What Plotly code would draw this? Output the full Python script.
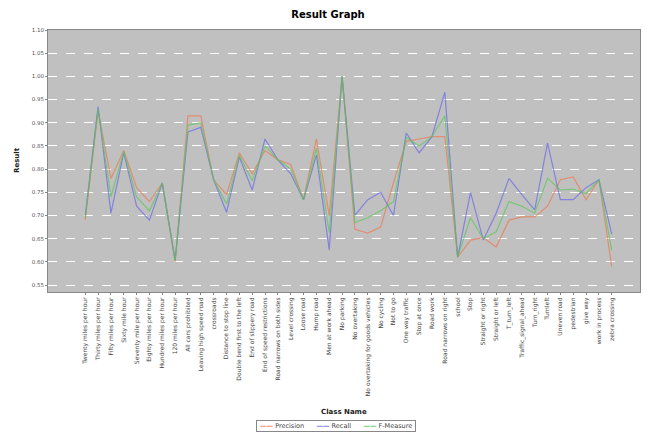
import plotly.graph_objects as go

categories = [
    "Twenty miles per hour", "Thirty miles per hour", "Fifty miles per hour",
    "Sixty mile hour", "Seventy mile per hour", "Eighty miles per hour",
    "Hundred miles per hour", "120 miles per hour", "All cars prohibited",
    "Leaving high speed road", "crossroads", "Distance to stop line",
    "Double bend first to the left", "End of slippery road",
    "End of speed restrictions", "Road narrows on both sides",
    "Level crossing", "Loose road", "Hump road", "Men at work ahead",
    "No parking", "No overtaking", "No overtaking for goods vehicles",
    "No cycling", "Not to go", "One way traffic", "Stop at once",
    "Road work", "Road narrows on right", "school", "Stop",
    "Straight or right", "Straight or left", "T_turn_left",
    "Traffic_signal_ahead", "Turn_right", "Turnleft", "Uneven road",
    "pedestrian", "give way", "work in process", "zebra crossing",
]

precision = [0.69, 0.925, 0.78, 0.84, 0.76, 0.73, 0.77, 0.60, 0.915, 0.915,
             0.777, 0.745, 0.835, 0.79, 0.84, 0.82, 0.81, 0.734, 0.865, 0.70,
             1.00, 0.67, 0.662, 0.675, 0.77, 0.86, 0.865, 0.87, 0.87, 0.61,
             0.647, 0.652, 0.632, 0.69, 0.697, 0.697, 0.72, 0.777, 0.783, 0.734,
             0.777, 0.59]
recall = [0.70, 0.935, 0.705, 0.835, 0.72, 0.69, 0.77, 0.604, 0.88, 0.89,
          0.777, 0.707, 0.826, 0.755, 0.865, 0.82, 0.79, 0.734, 0.83, 0.626,
          1.00, 0.70, 0.734, 0.75, 0.70, 0.878, 0.835, 0.87, 0.966, 0.61,
          0.75, 0.647, 0.705, 0.78, 0.745, 0.712, 0.856, 0.734, 0.734, 0.76,
          0.777, 0.66]
fmeasure = [0.695, 0.93, 0.74, 0.838, 0.74, 0.71, 0.77, 0.602, 0.895, 0.90,
            0.777, 0.725, 0.83, 0.775, 0.85, 0.82, 0.80, 0.734, 0.845, 0.663,
            1.00, 0.685, 0.695, 0.71, 0.73, 0.868, 0.85, 0.87, 0.915, 0.61,
            0.695, 0.65, 0.665, 0.73, 0.72, 0.705, 0.78, 0.755, 0.757, 0.747,
            0.777, 0.625]

series_names = ["Precision", "Recall", "F-Measure"]
series_colors = ["rgb(240,120,80)", "rgb(105,105,235)", "rgb(90,200,90)"]
y_ticks = [0.55, 0.60, 0.65, 0.70, 0.75, 0.80, 0.85, 0.90, 0.95, 1.00, 1.05, 1.10]

FONT = "DejaVu Sans"

fig = go.Figure()
for name, vals, col in zip(series_names, [precision, recall, fmeasure], series_colors):
    fig.add_trace(go.Scatter(
        x=categories, y=vals, mode="lines", name=name,
        line=dict(color=col, width=1.2), opacity=0.7,
    ))

fig.update_layout(
    width=656, height=434,
    margin=dict(l=48, r=16, t=30, b=142, autoexpand=False),
    paper_bgcolor="white",
    plot_bgcolor="rgb(192,192,192)",
    font=dict(family=FONT, size=6, color="#444"),
    title=dict(text="<b>Result Graph</b>", x=0.5, xanchor="center",
               y=1 - 14 / 434, yanchor="middle",
               font=dict(family=FONT, size=10, color="black")),
    showlegend=False,
)

fig.update_xaxes(
    type="category", range=[-2.9, 43.2],
    tickangle=-90, tickfont=dict(size=6, color="#444"),
    showgrid=False, ticks="outside", ticklen=2, tickcolor="#888",
    showline=True, linecolor="#888", linewidth=1, mirror=True,
    automargin=False,
)
fig.update_yaxes(
    range=[0.535, 1.10], tickvals=y_ticks, tickformat=".2f",
    tickfont=dict(size=5.5, color="#555"),
    showgrid=True, gridcolor="white", gridwidth=0.6, griddash="dash",
    ticks="outside", ticklen=2, tickcolor="#888",
    showline=True, linecolor="#888", linewidth=1, mirror=True,
    zeroline=False, automargin=False,
)

fig.add_annotation(text="<b>Class Name</b>", xref="paper", yref="paper",
                   x=0.5, y=(292 - 412) / 262, xanchor="center", yanchor="middle",
                   showarrow=False, font=dict(family=FONT, size=7, color="#222"))
fig.add_annotation(text="<b>Result</b>", xref="paper", yref="paper",
                   x=(17 - 48) / 592, y=(292 - 160) / 262, xanchor="center", yanchor="middle",
                   textangle=-90, showarrow=False,
                   font=dict(family=FONT, size=7, color="#222"))

# legend drawn as a single bordered text box, built from the series names/colours
legend_text = "      ".join(
    f"<span style='color:{c}'><b>——</b></span> {n}" for n, c in zip(series_names, series_colors)
)
fig.add_annotation(text=" " + legend_text + " ", xref="paper", yref="paper",
                   x=(336 - 48) / 592, y=(292 - 426) / 262,
                   xanchor="center", yanchor="middle", showarrow=False,
                   bordercolor="#888", borderwidth=1, borderpad=1, bgcolor="white",
                   font=dict(family=FONT, size=6.5, color="#444"))

fig.write_html("out.html", config={"displayModeBar": False},
               post_script="document.body.style.margin='0';")
